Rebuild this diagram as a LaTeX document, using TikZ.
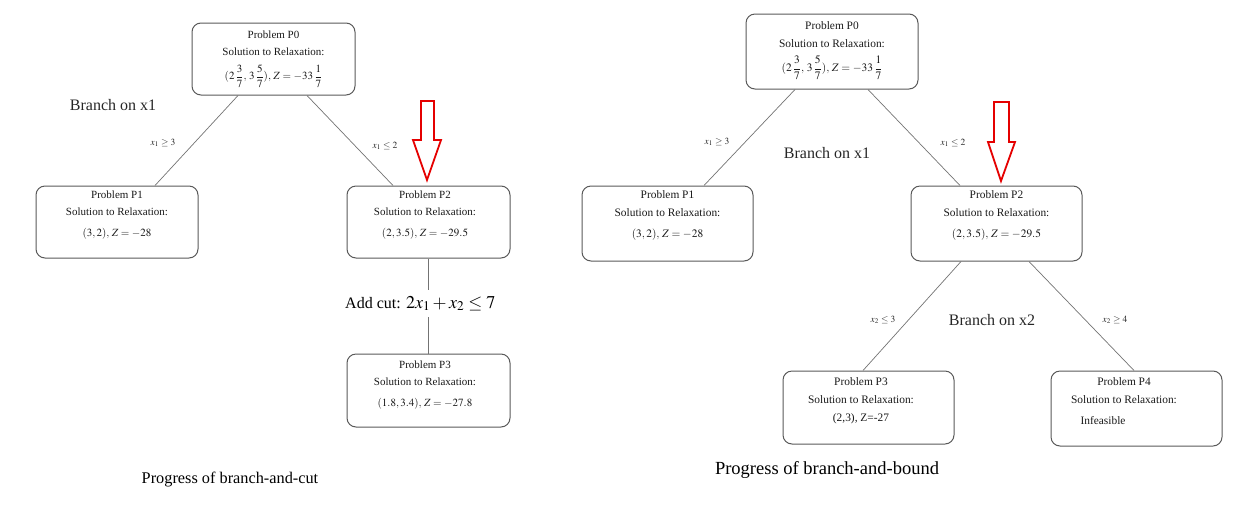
\documentclass[tikz,border=0pt]{standalone}
\usepackage{amsmath}
\usepackage{mathptmx}
\usepackage{fontspec}
\setmainfont{Liberation Serif}
\begin{document}
\begin{tikzpicture}[x=1pt,y=-1pt,
  box/.style={draw=black!65, line width=1pt, rounded corners=9pt, inner sep=0pt},
  txt/.style={align=center, anchor=north, inner sep=0pt, text=black!90,
              font=\fontsize{11}{17}\selectfont},
  conn/.style={draw=black!55, line width=0.7pt},
  lab/.style={inner sep=0pt, text=black!85, font=\fontsize{9.5}{10}\selectfont},
  bigtxt/.style={inner sep=0pt, text=black!85, font=\fontsize{16}{18}\selectfont},
  capt/.style={inner sep=0pt, text=black, font=\fontsize{16.3}{18}\selectfont},
  redarrow/.style={draw=red!90!black, line width=1.8pt, line join=miter}]
\useasboundingbox (0,0) rectangle (1240,507);

% ---------------- left: branch-and-cut ----------------
\node[box, minimum width=163pt, minimum height=72pt] (lp0) at (273.5,59) {};
\node[txt] (lp0t) at (273.5,31) {Problem P0\\Solution to Relaxation:\\[7pt]$(2\,\dfrac{3}{7},\,3\,\dfrac{5}{7}),\,Z=-33\,\dfrac{1}{7}$};
\node[box, minimum width=162pt, minimum height=72pt] (lp1) at (117,222) {};
\node[txt] (lp1t) at (117,190.5) {Problem P1\\Solution to Relaxation:\\[4pt]$(3,2),\,Z=-28$};
\node[box, minimum width=163pt, minimum height=72pt] (lp2) at (428.5,222) {};
\node[txt] (lp2t) at (425,190.5) {Problem P2\\Solution to Relaxation:\\[4pt]$(2,3.5),\,Z=-29.5$};
\node[box, minimum width=163pt, minimum height=73pt] (lp3) at (428.5,390.5) {};
\node[txt] (lp3t) at (425,360.5) {Problem P3\\Solution to Relaxation:\\[4pt]$(1.8,3.4),\,Z=-27.8$};

\draw[conn] ([xshift=-35.5pt]lp0.south) -- ([xshift=38pt]lp1.north);
\draw[conn] ([xshift=33.5pt]lp0.south) -- ([xshift=-35.5pt]lp2.north);

\node[lab] (lb1) at (163,143) {$x_1\geq 3$};
\node[lab] (lb2) at (385,146) {$x_1\leq 2$};
\node[bigtxt] (lbr) at (113,105) {Branch on x1};

\node[inner sep=0pt, minimum height=27pt, anchor=west] (cut) at (345,303.5)
  {\fontsize{16}{18}\selectfont Add cut: \fontsize{18}{20}\selectfont$2x_1+x_2\leq 7$};
\draw[conn] (lp2.south) -- (lp2.south |- cut.north);
\draw[conn] (lp3.north) -- (lp3.north |- cut.south);

\draw[redarrow] (421,101) -- (434,101) -- (434,140) -- (441,140) -- (427,180)
  -- (413,140) -- (421,140) -- cycle;

\node[capt] (lcap) at (230,480) {Progress of branch-and-cut};

% ---------------- right: branch-and-bound ----------------
\node[box, minimum width=172pt, minimum height=75pt] (rp0) at (832,51.5) {};
\node[txt, font=\fontsize{11.4}{17.5}\selectfont] (rp0t) at (832,21.5) {Problem P0\\Solution to Relaxation:\\[7pt]$(2\,\dfrac{3}{7},\,3\,\dfrac{5}{7}),\,Z=-33\,\dfrac{1}{7}$};
\node[box, minimum width=171pt, minimum height=75pt] (rp1) at (667.5,223.5) {};
\node[txt, font=\fontsize{11.4}{17.5}\selectfont] (rp1t) at (667.5,190.5) {Problem P1\\Solution to Relaxation:\\[4pt]$(3,2),\,Z=-28$};
\node[box, minimum width=171pt, minimum height=75pt] (rp2) at (996.5,223.5) {};
\node[txt, font=\fontsize{11.4}{17.5}\selectfont] (rp2t) at (996.5,190.5) {Problem P2\\Solution to Relaxation:\\[4pt]$(2,3.5),\,Z=-29.5$};
\node[box, minimum width=171pt, minimum height=73pt] (rp3) at (868.5,407.5) {};
\node[txt, font=\fontsize{11.4}{17.5}\selectfont] (rp3t) at (861,377.5) {Problem P3\\Solution to Relaxation:\\[1pt](2,3), Z=-27};
\node[box, minimum width=171pt, minimum height=75pt] (rp4) at (1136.5,408.5) {};
\node[txt, font=\fontsize{11.4}{17.5}\selectfont] (rp4t) at (1124,377.5) {Problem P4\\Solution to Relaxation:\\[4pt]Infeasible\hspace*{42pt}};

\draw[conn] ([xshift=-37pt]rp0.south) -- ([xshift=36.5pt]rp1.north);
\draw[conn] ([xshift=36pt]rp0.south) -- ([xshift=-36.5pt]rp2.north);
\draw[conn] ([xshift=-35.5pt]rp2.south) -- ([xshift=-5.5pt]rp3.north);
\draw[conn] ([xshift=32.5pt]rp2.south) -- ([xshift=-2.5pt]rp4.north);

\node[lab] (rb1) at (717,142) {$x_1\geq 3$};
\node[lab] (rb2) at (953,143) {$x_1\leq 2$};
\node[bigtxt] (rbr1) at (827,153) {Branch on x1};
\node[lab] (rb3) at (883,320) {$x_2\leq 3$};
\node[lab] (rb4) at (1115,320) {$x_2\geq 4$};
\node[bigtxt] (rbr2) at (992,320) {Branch on x2};

\draw[redarrow] (994,102) -- (1009,102) -- (1009,142) -- (1015,142) -- (1001,181)
  -- (988,142) -- (994,142) -- cycle;

\node[capt, font=\fontsize{18.5}{20}\selectfont] (rcap) at (827,470) {Progress of branch-and-bound};
\end{tikzpicture}
\end{document}
